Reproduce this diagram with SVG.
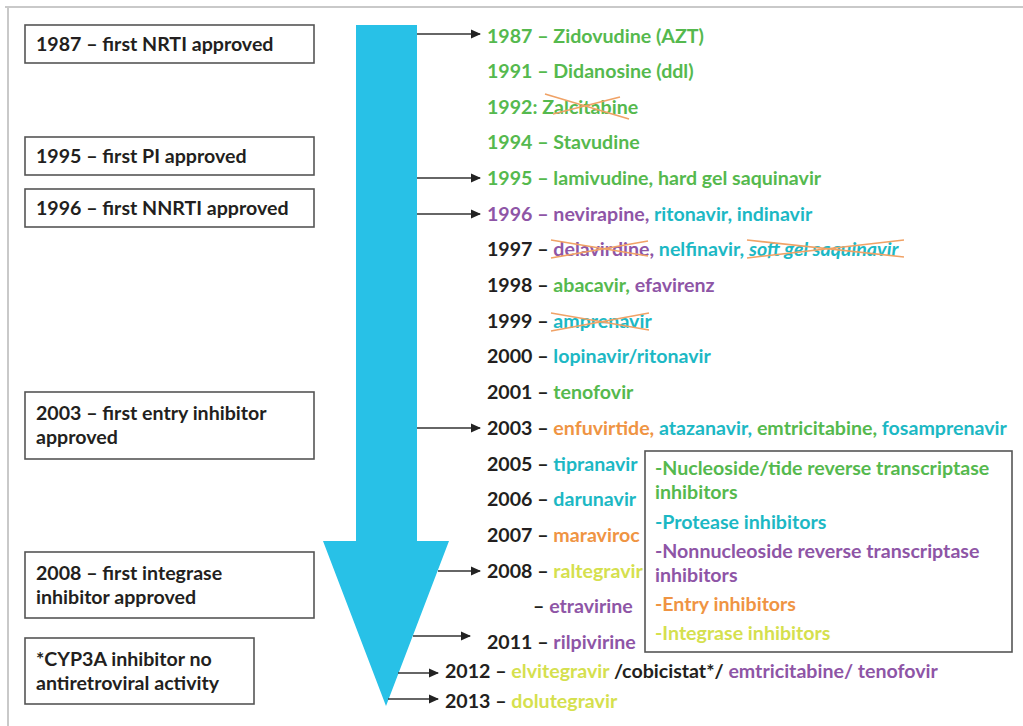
<svg xmlns="http://www.w3.org/2000/svg" width="1023" height="726" viewBox="0 0 1023 726">
<defs>
<marker id="ah" markerUnits="userSpaceOnUse" markerWidth="10" markerHeight="10" viewBox="0 0 10 10" refX="9" refY="5" orient="auto">
<path d="M0,0.5 L10,5 L0,9.5 Z" fill="#222"/>
</marker>
</defs>
<style>
text{font-family:Lato,"Open Sans",sans-serif;font-weight:bold;font-size:19.6px;fill:#231f20}
.box{fill:#fff;stroke:#555;stroke-width:1.6}
.g{fill:#55b94e}.t{fill:#1cb8c4}.p{fill:#8e55a6}.o{fill:#ef9443}.y{fill:#d5e04e}.k{fill:#231f20}
.con line{stroke:#333;stroke-width:1.6;marker-end:url(#ah)}
.x{stroke:#f0a266;stroke-width:1.6;fill:none}
</style>
<rect width="1023" height="726" fill="#fff"/>
<path d="M5,7 H1023 M8,7 V726" stroke="#c9c9c9" stroke-width="2" fill="none"/>

<g id="timeline-arrow">
<polygon points="356,25 417,25 417,541 449,541 386,706 323,541 356,541" fill="#28c1e7"/>
</g>

<g id="box-1987"><rect class="box" x="25" y="25" width="289" height="38"/><text x="36" y="51">1987 – first NRTI approved</text></g>
<g id="box-1995"><rect class="box" x="25" y="137" width="289" height="38"/><text x="36" y="163">1995 – first PI approved</text></g>
<g id="box-1996"><rect class="box" x="25" y="189" width="289" height="38"/><text x="36" y="215">1996 – first NNRTI approved</text></g>
<g id="box-2003"><rect class="box" x="25" y="392" width="289" height="67"/><text x="36" y="420">2003 – first entry inhibitor</text><text x="36" y="444">approved</text></g>
<g id="box-2008"><rect class="box" x="25" y="552" width="289" height="66"/><text x="36" y="580">2008 – first integrase</text><text x="36" y="604">inhibitor approved</text></g>
<g id="box-cyp3a"><rect class="box" x="25" y="638" width="229" height="66"/><text x="36" y="666">*CYP3A inhibitor no</text><text x="36" y="690">antiretroviral activity</text></g>

<g id="legend">
<rect class="box" x="645" y="451" width="367" height="201"/>
<text x="655" y="475" class="g">-Nucleoside/tide reverse transcriptase</text>
<text x="655" y="499" class="g">inhibitors</text>
<text x="655" y="529" class="t">-Protease inhibitors</text>
<text x="655" y="558" class="p">-Nonnucleoside reverse transcriptase</text>
<text x="655" y="582" class="p">inhibitors</text>
<text x="655" y="611" class="o">-Entry inhibitors</text>
<text x="655" y="640" class="y">-Integrase inhibitors</text>
</g>

<g id="drugs">
<text x="487" y="43" class="g">1987 – Zidovudine (AZT)</text>
<text x="487" y="78" class="g">1991 – Didanosine (ddl)</text>
<text x="487" y="114" class="g">1992: Zalcitabine</text>
<text x="487" y="149" class="g">1994 – Stavudine</text>
<text x="487" y="185" class="g">1995 – lamivudine, hard gel saquinavir</text>
<text x="487" y="221"><tspan class="p">1996 – nevirapine, </tspan><tspan class="t">ritonavir, indinavir</tspan></text>
<text x="487" y="256">1997 – <tspan class="p">delavirdine, </tspan><tspan class="t">nelfinavir, </tspan><tspan class="t" font-style="italic">soft gel saquinavir</tspan></text>
<text x="487" y="292">1998 – <tspan class="g">abacavir, </tspan><tspan class="p">efavirenz</tspan></text>
<text x="487" y="328">1999 – <tspan class="t">amprenavir</tspan></text>
<text x="487" y="363">2000 – <tspan class="t">lopinavir/ritonavir</tspan></text>
<text x="487" y="399">2001 – <tspan class="g">tenofovir</tspan></text>
<text x="487" y="435">2003 – <tspan class="o">enfuvirtide, </tspan><tspan class="t">atazanavir, </tspan><tspan class="g">emtricitabine, </tspan><tspan class="t">fosamprenavir</tspan></text>
<text x="487" y="471">2005 – <tspan class="t">tipranavir</tspan></text>
<text x="487" y="506">2006 – <tspan class="t">darunavir</tspan></text>
<text x="487" y="542">2007 – <tspan class="o">maraviroc</tspan></text>
<text x="487" y="578">2008 – <tspan class="y">raltegravir</tspan></text>
<text x="533" y="613">– <tspan class="p">etravirine</tspan></text>
<text x="487" y="649">2011 – <tspan class="p">rilpivirine</tspan></text>
<text x="445" y="678">2012 – <tspan class="y">elvitegravir</tspan> /cobicistat*/ <tspan class="p">emtricitabine/ tenofovir</tspan></text>
<text x="445" y="708">2013 – <tspan class="y">dolutegravir</tspan></text>
</g>

<g id="strikeouts">
<path class="x" d="M545,94 L629,119 M553,114 L620,97"/>
<path class="x" d="M551,240 L648,256 M551,258 L648,241"/>
<path class="x" d="M747,240 L904,257 M747,258 L904,240"/>
<path class="x" d="M551,313 L649,330 M551,331 L649,313"/>
</g>

<g id="connectors" class="con">
<line x1="417" y1="34" x2="480" y2="34"/>
<line x1="417" y1="178" x2="480" y2="178"/>
<line x1="417" y1="214" x2="480" y2="214"/>
<line x1="417" y1="428" x2="480" y2="428"/>
<line x1="438" y1="571" x2="480" y2="571"/>
<line x1="413" y1="636" x2="470" y2="636"/>
<line x1="398" y1="673" x2="438" y2="673"/>
<line x1="388" y1="699" x2="438" y2="699"/>
</g>
</svg>
